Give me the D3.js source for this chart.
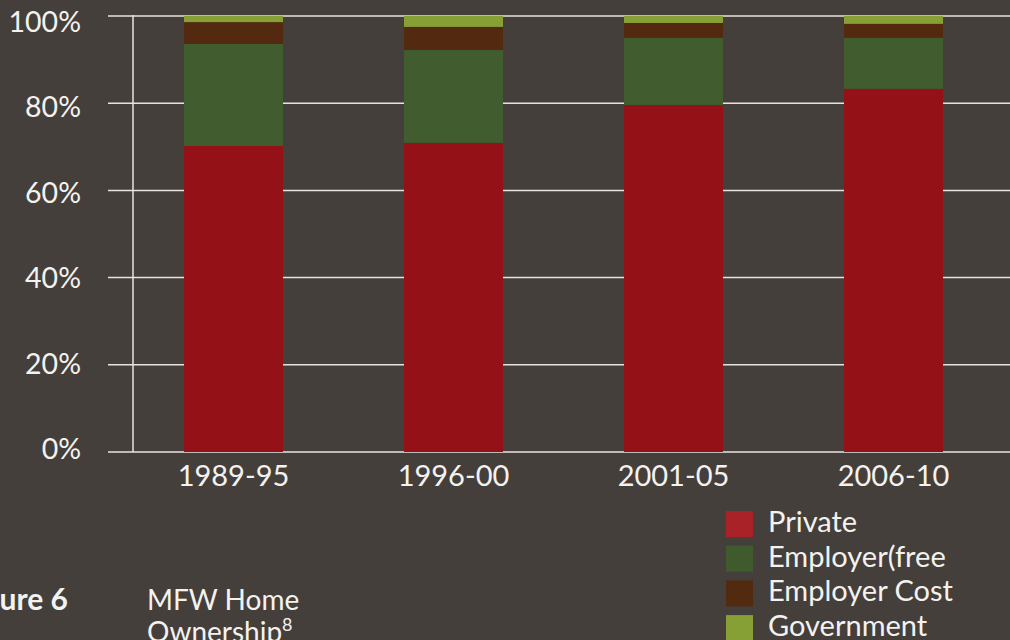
<!DOCTYPE html>
<html lang="en">
<head>
    <meta charset="UTF-8">
    <title>MFW Home Ownership</title>
    <script src="https://d3js.org/d3.v7.min.js"></script>
    <style>
        html, body {
            margin: 0;
            padding: 0;
            background: #443f3b;
            overflow: hidden;
        }
        svg text {
            font-family: Lato, sans-serif;
            fill: #f4f2ef;
        }
    </style>
</head>
<body>

<div id="chart"></div>

<script>
    // data (percent share of each period)
    const periods = ["1989-95", "1996-00", "2001-05", "2006-10"];
    const seriesNames = ["Private", "Employer(free", "Employer Cost", "Government"];
    const privateVals = [70.2, 70.9, 79.6, 83.3];
    const employerFree = [23.4, 21.3, 15.4, 11.7];
    const employerCost = [5.0, 5.3, 3.4, 3.2];
    const government = [1.4, 2.5, 1.6, 1.8];
    const yTicks = [0, 20, 40, 60, 80, 100];

    const barColors = ["#951118", "#415c2f", "#532a10", "#87a035"];
    const legendColors = ["#a92227", "#3f5a2d", "#512a0f", "#87a036"];

    const width = 1010;
    const height = 640;

    const rows = periods.map((p, i) => ({
        period: p,
        "Private": privateVals[i],
        "Employer(free": employerFree[i],
        "Employer Cost": employerCost[i],
        "Government": government[i]
    }));

    const stacked = d3.stack().keys(seriesNames)(rows);

    const x = d3.scaleBand()
        .domain(periods)
        .range([123.5, 1003.5])
        .paddingInner(0.55)
        .paddingOuter(0.275);

    const y = d3.scaleLinear()
        .domain([0, 100])
        .range([452, 16]);

    // tick labels sit on a slightly tighter ladder than the grid
    const yLabel = d3.scaleLinear()
        .domain([0, 100])
        .range([459, 32]);

    const svg = d3.select("#chart")
        .append("svg")
        .attr("width", width)
        .attr("height", height);

    // horizontal grid lines
    svg.append("g")
        .selectAll("line")
        .data(yTicks)
        .enter()
        .append("line")
        .attr("x1", 108)
        .attr("x2", width)
        .attr("y1", d => y(d))
        .attr("y2", d => y(d))
        .attr("stroke", "#e6e4e2")
        .attr("stroke-width", 1.5);

    // vertical axis line
    svg.append("line")
        .attr("x1", 133)
        .attr("x2", 133)
        .attr("y1", y(100) - 1)
        .attr("y2", y(0))
        .attr("stroke", "#e6e4e2")
        .attr("stroke-width", 1.5);

    // y labels
    svg.append("g")
        .selectAll("text")
        .data(yTicks)
        .enter()
        .append("text")
        .attr("x", 81)
        .attr("y", d => yLabel(d))
        .attr("text-anchor", "end")
        .style("font-size", "28.5px")
        .text(d => d + "%");

    // stacked bars
    svg.append("g")
        .selectAll("g")
        .data(stacked)
        .enter()
        .append("g")
        .attr("fill", (d, i) => barColors[i])
        .selectAll("rect")
        .data(d => d)
        .enter()
        .append("rect")
        .attr("x", d => x(d.data.period))
        .attr("width", x.bandwidth())
        .attr("y", d => y(Math.min(d[1], 100)))
        .attr("height", d => y(d[0]) - y(Math.min(d[1], 100)));

    // x labels
    svg.append("g")
        .selectAll("text")
        .data(periods)
        .enter()
        .append("text")
        .attr("x", d => x(d) + x.bandwidth() / 2)
        .attr("y", 486)
        .attr("text-anchor", "middle")
        .style("font-size", "29px")
        .text(d => d);

    // legend
    const legend = svg.append("g")
        .selectAll("g")
        .data(seriesNames)
        .enter()
        .append("g")
        .attr("transform", (d, i) => `translate(726,${511 + i * 34.7})`);

    legend.append("rect")
        .attr("width", 27)
        .attr("height", 26)
        .attr("fill", (d, i) => legendColors[i]);

    legend.append("text")
        .attr("x", 42)
        .attr("y", 21)
        .style("font-size", "29px")
        .text(d => d);

    // caption at the bottom
    svg.append("text")
        .attr("x", 68)
        .attr("y", 610)
        .attr("text-anchor", "end")
        .style("font-size", "30px")
        .style("font-weight", "bold")
        .text("Figure 6");

    svg.append("text")
        .attr("x", 147)
        .attr("y", 610)
        .style("font-size", "28px")
        .text("MFW Home");

    const own = svg.append("text")
        .attr("x", 147)
        .attr("y", 642)
        .style("font-size", "28px");
    own.append("tspan").text("Ownership");
    own.append("tspan")
        .attr("dy", -11)
        .style("font-size", "18px")
        .text("8");
</script>

</body>
</html>
